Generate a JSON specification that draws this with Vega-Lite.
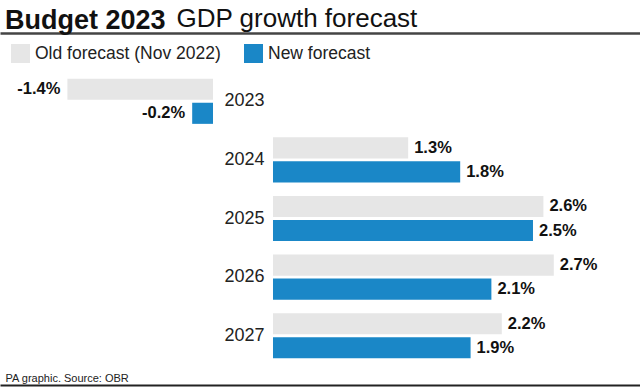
{
  "$schema": "https://vega.github.io/schema/vega-lite/v6.json",
  "width": 640,
  "height": 293,
  "autosize": {"type": "none"},
  "padding": {"left": 0, "top": 72, "right": 0, "bottom": 25},
  "background": "white",
  "config": {"view": {"stroke": null}, "font": "Liberation Sans", "axis": {"domain": true, "domainOpacity": 1}},
  "title": {
    "text": "Budget 2023",
    "anchor": "start",
    "frame": "group",
    "fontSize": 27,
    "fontWeight": "bold",
    "color": "#111111",
    "dx": 5,
    "dy": 30,
    "offset": 0
  },
  "data": {
    "values": [
      {"year": "2023", "series": "Old forecast (Nov 2022)", "value": -1.4, "label": "-1.4%"},
      {"year": "2023", "series": "New forecast", "value": -0.2, "label": "-0.2%"},
      {"year": "2024", "series": "Old forecast (Nov 2022)", "value": 1.3, "label": "1.3%"},
      {"year": "2024", "series": "New forecast", "value": 1.8, "label": "1.8%"},
      {"year": "2025", "series": "Old forecast (Nov 2022)", "value": 2.6, "label": "2.6%"},
      {"year": "2025", "series": "New forecast", "value": 2.5, "label": "2.5%"},
      {"year": "2026", "series": "Old forecast (Nov 2022)", "value": 2.7, "label": "2.7%"},
      {"year": "2026", "series": "New forecast", "value": 2.1, "label": "2.1%"},
      {"year": "2027", "series": "Old forecast (Nov 2022)", "value": 2.2, "label": "2.2%"},
      {"year": "2027", "series": "New forecast", "value": 1.9, "label": "1.9%"}
    ]
  },
  "layer": [
    {
      "transform": [{"filter": "datum.value >= 0"}],
      "encoding": {
        "y": {
          "field": "year", "type": "nominal",
          "scale": {"paddingInner": 0.23, "paddingOuter": 0.115},
          "axis": {"orient": "left", "offset": -273, "domain": false, "ticks": false, "labelPadding": 9, "labelFontSize": 18, "labelColor": "#222222", "title": null, "grid": false}
        },
        "yOffset": {
          "field": "series", "type": "nominal",
          "sort": ["Old forecast (Nov 2022)", "New forecast"],
          "scale": {"paddingInner": 0.12, "paddingOuter": 0}
        },
        "x": {
          "field": "value", "type": "quantitative",
          "scale": {"domain": [-2.625, 3.529], "zero": false, "nice": false},
          "axis": {"orient": "top", "offset": 39, "labels": false, "ticks": false, "grid": false, "domain": true, "domainColor": "#444444", "domainWidth": 2.5, "title": "GDP growth forecast", "titleX": 176, "titleY": -7, "titleAlign": "left", "titleAnchor": null, "titleBaseline": "alphabetic", "titleFontSize": 26, "titleFontWeight": "normal", "titleColor": "#111111"}
        }
      },
      "layer": [
        {
          "mark": {"type": "bar"},
          "encoding": {
            "x2": {"datum": 0},
            "color": {
              "field": "series", "type": "nominal",
              "scale": {"domain": ["Old forecast (Nov 2022)", "New forecast"], "range": ["#e6e6e6", "#1a87c7"]},
              "legend": {"orient": "none", "legendX": 11, "legendY": -28, "direction": "horizontal", "title": null, "symbolType": "square", "symbolSize": 361, "symbolStrokeWidth": 0, "symbolOpacity": 1, "labelFontSize": 17.5, "labelColor": "#222222", "labelOffset": 5, "labelLimit": 400, "columnPadding": 23, "padding": 0}
            }
          }
        },
        {
          "mark": {"type": "text", "align": "left", "baseline": "middle", "dx": 6, "fontWeight": "bold", "fontSize": 16.5, "color": "#111111"},
          "encoding": {"text": {"field": "label"}}
        }
      ]
    },
    {
      "transform": [{"filter": "datum.value < 0"}],
      "encoding": {
        "y": {
          "field": "year", "type": "nominal",
          "scale": {"paddingInner": 0.23, "paddingOuter": 0.115},
          "axis": {"orient": "left", "offset": -273, "domain": false, "ticks": false, "labelPadding": 9, "labelFontSize": 18, "labelColor": "#222222", "title": null, "grid": false}
        },
        "yOffset": {
          "field": "series", "type": "nominal",
          "sort": ["Old forecast (Nov 2022)", "New forecast"],
          "scale": {"paddingInner": 0.12, "paddingOuter": 0}
        },
        "x": {
          "field": "value", "type": "quantitative",
          "scale": {"domain": [-2.048, 4.106], "zero": false, "nice": false},
          "axis": {"orient": "bottom", "offset": 20, "labels": false, "ticks": false, "grid": false, "domain": true, "domainColor": "#222222", "domainWidth": 2, "title": "PA graphic. Source: OBR", "titleX": 5, "titleY": -4, "titleAlign": "left", "titleAnchor": null, "titleBaseline": "alphabetic", "titleFontSize": 11, "titleFontWeight": "normal", "titleColor": "#222222"}
        }
      },
      "layer": [
        {
          "mark": {"type": "bar"},
          "encoding": {
            "x2": {"datum": 0},
            "color": {
              "field": "series", "type": "nominal",
              "scale": {"domain": ["Old forecast (Nov 2022)", "New forecast"], "range": ["#e6e6e6", "#1a87c7"]}
            }
          }
        },
        {
          "mark": {"type": "text", "align": "right", "baseline": "middle", "dx": -7, "fontWeight": "bold", "fontSize": 16.5, "color": "#111111"},
          "encoding": {"text": {"field": "label"}}
        }
      ]
    }
  ],
  "resolve": {"scale": {"x": "independent"}, "axis": {"x": "independent"}}
}
